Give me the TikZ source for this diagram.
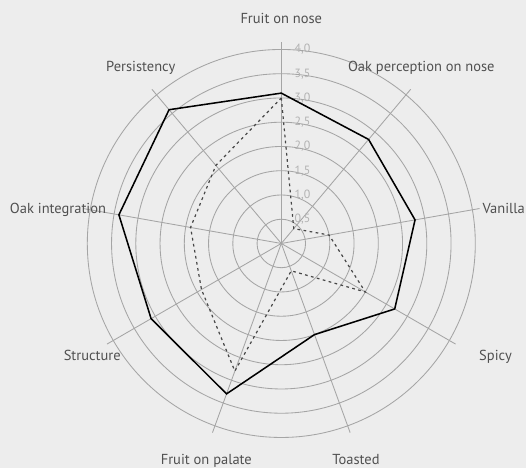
\documentclass[tikz,border=0pt]{standalone}
\usepackage{fontspec}
\setmainfont{PT Sans}
\usepackage{tikz}
\usetikzlibrary{arrows}
\definecolor{bgcol}{RGB}{237,237,237}
\definecolor{gridcol}{RGB}{165,165,165}
\definecolor{tickcol}{RGB}{178,178,178}
\definecolor{labcol}{RGB}{80,80,80}
\definecolor{dashcol}{RGB}{70,70,70}

\begin{document}
\begin{tikzpicture}[grid/.style={gridcol,line width=0.5pt},
 axlab/.style={labcol,anchor=mid,font=\fontsize{8.5}{10}\selectfont},
 ticklab/.style={tickcol,anchor=west,inner sep=0pt,font=\fontsize{7}{8}\selectfont},
 wineA/.style={black,line width=0.9pt,line join=miter},
 wineB/.style={dashcol,line width=0.7pt,dash pattern=on 1.6pt off 2pt}]
\fill[bgcol] (-5.8,-4.63) rectangle (5.045,5.02);
\useasboundingbox (-5.8,-4.63) rectangle (5.045,5.02);

\foreach \r in {0.5,1,...,4} \draw[grid] (0,0) circle (\r);
\foreach \i in {0,...,8} \draw[grid] (0,0) -- ({90-40*\i}:4.15) coordinate (ax-\i);
\foreach \t [count=\k] in {{0,5},{1,0},{1,5},{2,0},{2,5},{3,0},{3,5},{4,0}}
 \node[ticklab] (tick-\k) at (0.27,\k*0.5) {\t};

\foreach \txt/\x/\y [count=\i from 0] in {Fruit on nose/0/4.63,Oak perception on nose/2.887/3.633,Vanilla/4.586/0.705,Spicy/4.416/-2.334,Toasted/1.54/-4.464,Fruit on palate/-1.546/-4.464,Structure/-3.899/-2.334,Oak integration/-4.604/0.705,Persistency/-2.897/3.625}
 \node[axlab] (lab-\i) at (\x,\y) {\txt};

\foreach \v [count=\i from 0] in {3.1,2.8,2.8,2.7,2.0,3.3,3.1,3.4,3.6}
 \coordinate (a-\i) at ({90-40*\i}:\v);
\foreach \v [count=\i from 0] in {3.0,0.4,1.0,2.0,0.6,2.8,1.9,1.9,2.1}
 \coordinate (b-\i) at ({90-40*\i}:\v);

\draw[wineB] (b-0) \foreach \i in {1,...,8}{ -- (b-\i)} -- cycle;
\draw[wineA] (a-0) \foreach \i in {1,...,8}{ -- (a-\i)} -- cycle;
\end{tikzpicture}
\end{document}
